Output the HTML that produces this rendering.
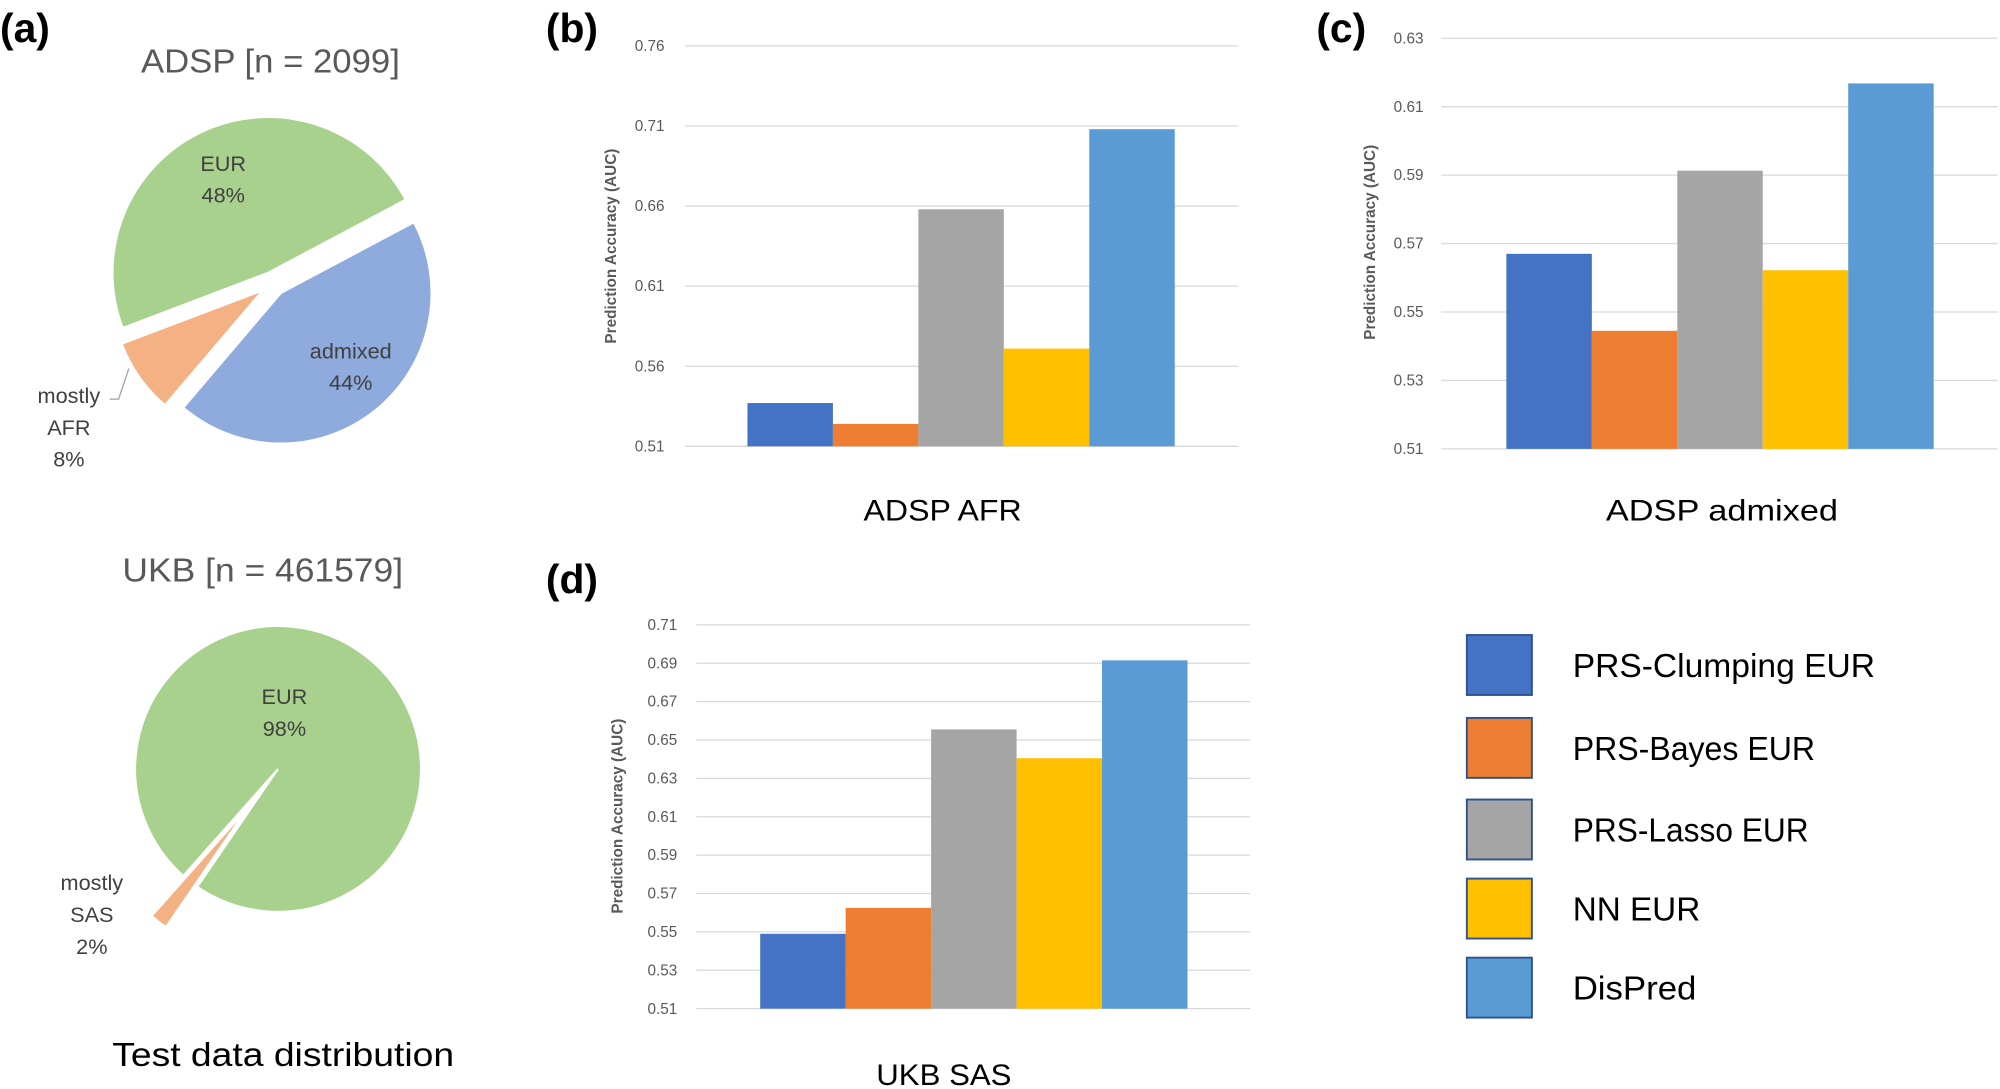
<!DOCTYPE html>
<html><head><meta charset="utf-8"><style>
html,body{margin:0;padding:0;background:#fff;}
svg{display:block;font-family:"Liberation Sans",sans-serif;}
</style></head><body>
<svg id="s" width="2000" height="1089" viewBox="0 0 1568 854" preserveAspectRatio="none" xmlns="http://www.w3.org/2000/svg">
<g font-weight="bold" font-size="32" fill="#000">
<text x="0" y="33">(a)</text><text x="428" y="33">(b)</text><text x="1032" y="33">(c)</text><text x="428" y="465">(d)</text>
</g>
<g font-size="26" fill="#595959" text-anchor="middle">
<text x="212" y="57" textLength="203" lengthAdjust="spacingAndGlyphs">ADSP [n = 2099]</text>
<text x="206" y="456" textLength="220" lengthAdjust="spacingAndGlyphs">UKB [n = 461579]</text>
</g>
<text x="222" y="836" font-size="26" text-anchor="middle" textLength="268" lengthAdjust="spacingAndGlyphs">Test data distribution</text>
<g id="pies"></g>
<g font-size="17" fill="#404040" text-anchor="middle">
<text x="175" y="134">EUR</text><text x="175" y="159">48%</text>
<text x="275" y="281">admixed</text><text x="275" y="306">44%</text>
<text x="54" y="316">mostly</text><text x="54" y="341">AFR</text><text x="54" y="366">8%</text>
<text x="223" y="552">EUR</text><text x="223" y="577">98%</text>
<text x="72" y="698">mostly</text><text x="72" y="723">SAS</text><text x="72" y="748">2%</text>
</g>
<polyline points="86,313 93,313 101,289" fill="none" stroke="#a0a0a0" stroke-width="1"/>
<g id="charts"></g>
<g font-size="23" text-anchor="middle">
<text x="739" y="408" textLength="124" lengthAdjust="spacingAndGlyphs">ADSP AFR</text>
<text x="1350" y="408" textLength="182" lengthAdjust="spacingAndGlyphs">ADSP admixed</text>
<text x="740" y="851" textLength="106" lengthAdjust="spacingAndGlyphs">UKB SAS</text>
</g>
<g id="legend" font-size="26"></g>
</svg>
<script>
const NS="http://www.w3.org/2000/svg";
function el(p,t,a,txt){const e=document.createElementNS(NS,t);for(const k in a)e.setAttribute(k,a[k]);if(txt!==undefined)e.textContent=txt;document.getElementById(p).appendChild(e);return e;}
function pt(cx,cy,r,a){const t=a*Math.PI/180;return [cx+r*Math.sin(t),cy-r*Math.cos(t)];}
function wedge(cx,cy,r,a0,a1,off,fill){const m=(a0+a1)/2;const o=pt(0,0,off,m);cx+=o[0];cy+=o[1];
 const p0=pt(cx,cy,r,a0),p1=pt(cx,cy,r,a1);const lg=(a1-a0)>180?1:0;
 el('pies','path',{d:`M${cx},${cy} L${p0[0]},${p0[1]} A${r},${r} 0 ${lg} 1 ${p1[0]},${p1[1]} Z`,fill:fill,stroke:'#fff','stroke-width':1.5});}
const s=62;
wedge(214,222,118,s,s+158.4,10,'#8faadc');
wedge(214,222,118,s+158.4,s+187.2,10,'#f4b183');
wedge(214,222,122,s+187.2,s+360,9,'#a9d18e');
wedge(218,603,112,221.6,574.4,0,'#a9d18e');
wedge(218,603,112,214.4,221.6,40,'#f4b183');
const cols=['#4472c4','#ed7d31','#a5a5a5','#ffc000','#5b9bd5'];
function chart(x0,x1,yTop,yBot,vTop,vBot,step,labX,bx,vals,atx,aty){
 const n=Math.round((vTop-vBot)/step);
 for(let i=0;i<=n;i++){const v=vBot+i*step;const y=yBot-(yBot-yTop)*i/n;
  el('charts','line',{x1:x0,x2:x1,y1:y,y2:y,stroke:'#d9d9d9','stroke-width':1});
  el('charts','text',{x:labX,y:y+4,'font-size':12,'text-anchor':'end',fill:'#595959'},v.toFixed(2));}
 vals.forEach((v,i)=>{const y=yBot-(v-vBot)/(vTop-vBot)*(yBot-yTop);
  el('charts','rect',{x:bx+i*67,y:y,width:67,height:yBot-y,fill:cols[i]});});
 el('charts','text',{x:0,y:0,transform:`translate(${atx},${aty}) rotate(-90)`,'font-size':12,'font-weight':'bold','text-anchor':'middle',fill:'#595959'},'Prediction Accuracy (AUC)');
}
chart(537,971,36,350,0.76,0.51,0.05,521,586,[0.537,0.524,0.658,0.571,0.708],483,193);
chart(1130,1566,30,352,0.63,0.51,0.02,1116,1181,[0.5670,0.5445,0.5913,0.5622,0.6168],1078,190);
chart(546,980,490,791,0.71,0.51,0.02,531,596,[0.549,0.5625,0.6555,0.6405,0.6915],488,640);
const names=['PRS-Clumping EUR','PRS-Bayes EUR','PRS-Lasso EUR','NN EUR','DisPred'];
const lens=[237,190,185,100,97];
const ys=[498,563,627,689,751];
names.forEach((n,i)=>{el('legend','rect',{x:1150,y:ys[i],width:51,height:47,fill:cols[i],stroke:'#2f528f','stroke-width':1.5});
 el('legend','text',{x:1233,y:ys[i]+33,fill:'#000',textLength:lens[i],lengthAdjust:'spacingAndGlyphs'},n);});
</script>
</body></html>
